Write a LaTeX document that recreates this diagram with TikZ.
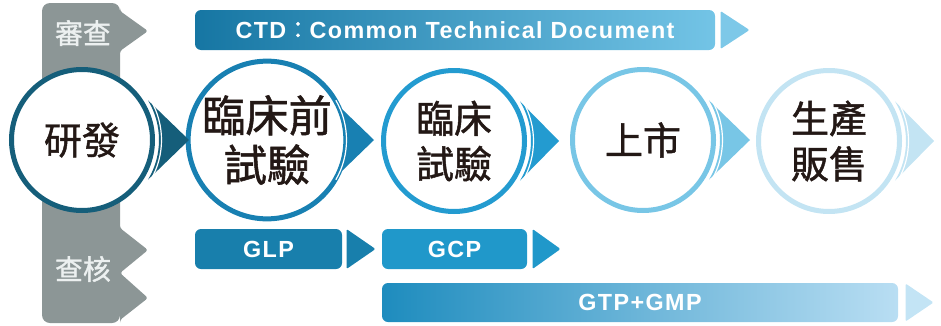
\documentclass[tikz,border=0pt]{standalone}
\usepackage{fontspec}
\setmainfont{Liberation Sans}
\newfontfamily\cjk[FakeBold=1.2]{Noto Sans CJK TC}
\newfontfamily\barfont[LetterSpace=6]{Liberation Sans}

\definecolor{grayband}{RGB}{140,150,150}
\definecolor{stageA}{RGB}{21,94,122}
\definecolor{stageB}{RGB}{24,128,178}
\definecolor{stageC}{RGB}{35,155,208}
\definecolor{stageD}{RGB}{120,198,230}
\definecolor{stageE}{RGB}{195,228,243}
\definecolor{inkblack}{RGB}{35,24,21}
\definecolor{ctdleft}{RGB}{22,118,163}
\definecolor{ctdright}{RGB}{115,196,230}
\definecolor{ctdtip}{RGB}{125,200,232}
\definecolor{glpblue}{RGB}{24,127,172}
\definecolor{gcpblue}{RGB}{32,152,202}
\definecolor{gmpleft}{RGB}{30,140,190}
\definecolor{gmpright}{RGB}{185,222,243}
\definecolor{gmptip}{RGB}{195,228,245}
\definecolor{bandtext}{RGB}{236,240,240}

\tikzset{every picture/.style={line width=0.75pt}}
\tikzset{
  stage/.style={circle, draw=#1, line width=3.75pt, fill=white, minimum size=105.75pt,
    inner sep=0pt, align=center, text=inkblack, font=\cjk\fontsize{28.5}{34}\selectfont},
  chev/.style={fill=#1},
  chevcut/.style={draw=white, line width=0.9pt},
  bar/.style={rounded corners=4.5pt, minimum height=30pt, inner sep=0pt, text=white,
    font=\barfont\bfseries\fontsize{17.5}{20}\selectfont},
  bartip/.style={fill=#1, rounded corners=1pt},
  bandlabel/.style={text=bandtext, inner sep=0pt, font=\cjk\fontsize{21}{24}\selectfont}
}

\begin{document}
\begin{tikzpicture}[x=0.75pt,y=0.75pt,yscale=-1,xscale=1]
\useasboundingbox (0,0) rectangle (941,325);

%Shape: Gray band with teeth
\fill [grayband] (42,300) [rounded corners=6] -- (42,3) -- (120,3) [rounded corners=2] -- (120,11) -- (148,31) -- (120,51) -- (120,228) -- (148,250) -- (120,273) -- (148,298) -- (120,320) [rounded corners=6] -- (120,323) -- (42,323) -- (42,300) -- cycle ;

% Text Node
\node [bandlabel] (review) at (83,33) {審查};
% Text Node
\node [bandlabel] (audit) at (83,269) {查核};

%Shape: Circles
\node [stage=stageA] (dev) at (82,140) {研發};
\node [stage=stageB, font=\cjk\fontsize{32.5}{37}\selectfont] (preclin) at (267,140) {臨床前\\試驗};
\node [stage=stageC] (clin) at (454,141) {臨床\\試驗};
\node [stage=stageD] (market) at (643,140) {上市};
\node [stage=stageE] (sales) at (829,141) {生產\\販售};

%Shape: Chevrons
\fill [chev=stageA, shift={(dev.center)}] (31:77) arc [start angle=31, end angle=-31, radius=77] -- (107,0) -- cycle ;
\draw [chevcut, shift={(dev.center)}] (30:79.5) arc [start angle=30, end angle=-30, radius=79.5] ;
\fill [chev=stageB, shift={(preclin.center)}] (31:77) arc [start angle=31, end angle=-31, radius=77] -- (107,0) -- cycle ;
\draw [chevcut, shift={(preclin.center)}] (30:79.5) arc [start angle=30, end angle=-30, radius=79.5] ;
\fill [chev=stageC, shift={(clin.center)}] (31:77) arc [start angle=31, end angle=-31, radius=77] -- (105,0) -- cycle ;
\draw [chevcut, shift={(clin.center)}] (30:79.5) arc [start angle=30, end angle=-30, radius=79.5] ;
\fill [chev=stageD, shift={(market.center)}] (31:77) arc [start angle=31, end angle=-31, radius=77] -- (107,0) -- cycle ;
\draw [chevcut, shift={(market.center)}] (30:79.5) arc [start angle=30, end angle=-30, radius=79.5] ;
\fill [chev=stageE, shift={(sales.center)}] (31:77) arc [start angle=31, end angle=-31, radius=77] -- (105,0) -- cycle ;
\draw [chevcut, shift={(sales.center)}] (30:79.5) arc [start angle=30, end angle=-30, radius=79.5] ;

%Shape: Bars
\node [bar, minimum width=390pt, left color=ctdleft, right color=ctdright] (ctd) at (455,30) {CTD{\cjk\mdseries ：}Common Technical Document};
\fill [bartip=ctdtip, shift={(ctd.east)}] (5,-19) -- (34,0) -- (5,19) -- cycle ;

\node [bar, minimum width=110.25pt, fill=glpblue] (glp) at (268.5,249) {GLP};
\fill [bartip=glpblue, shift={(glp.east)}] (4,-20) -- (33,0) -- (4,20) -- cycle ;

\node [bar, minimum width=108.75pt, fill=gcpblue] (gcp) at (454.5,249) {GCP};
\fill [bartip=gcpblue, shift={(gcp.east)}] (5,-20) -- (33,0) -- (5,20) -- cycle ;

\node [bar, minimum width=387pt, minimum height=29.25pt, left color=gmpleft, right color=gmpright] (gmp) at (640,302.5) {GTP+GMP};
\fill [bartip=gmptip, shift={(gmp.east)}] (7,-19) -- (35,0) -- (7,19) -- cycle ;

\end{tikzpicture}
\end{document}
